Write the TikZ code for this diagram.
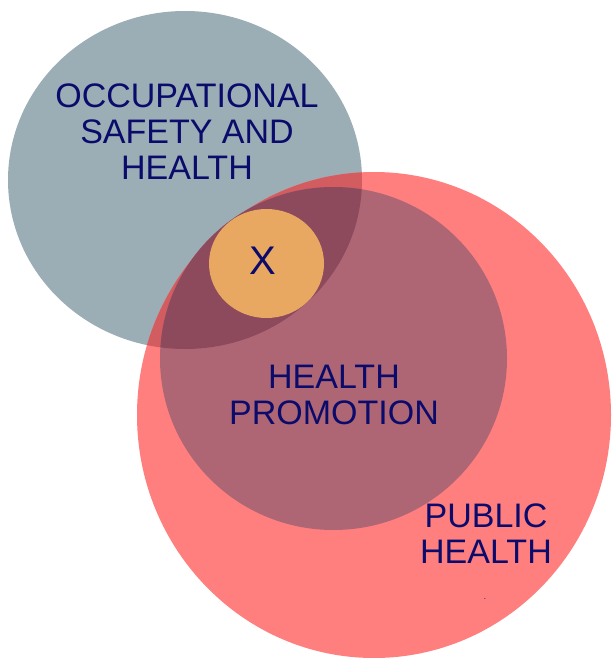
\documentclass[tikz,border=0pt]{standalone}
\usepackage{fontspec}
\setmainfont{Liberation Sans}
\usetikzlibrary{positioning}

\definecolor{oshgrey}{RGB}{155,173,181}
\definecolor{phred}{RGB}{255,127,127}
\definecolor{phdark}{RGB}{210,92,96}
\definecolor{hpmauve}{RGB}{174,102,117}
\definecolor{hpdark}{RGB}{141,74,93}
\definecolor{xorange}{RGB}{232,168,98}
\definecolor{labelblue}{RGB}{11,11,107}

\begin{document}
\begin{tikzpicture}
  [
  x=1pt, y=-1pt,
  font=\fontsize{34}{36}\selectfont,
  venntext/.style={text=labelblue, align=center, inner sep=0pt},
  oshset/.style={x radius=177, y radius=169},
  phset/.style={x radius=237, y radius=243},
  hpset/.style={x radius=173.5, y radius=171.5},
  ]
  \useasboundingbox (0,0) rectangle (611,658);

  % sets
  \fill[oshgrey] (185,180) ellipse [oshset];
  \fill[phred] (374,415) ellipse [phset];
  \begin{scope}
    \clip (185,180) ellipse [oshset];
    \fill[phdark] (374,415) ellipse [phset];
  \end{scope}
  \fill[hpmauve] (333.5,358.5) ellipse [hpset];
  \begin{scope}
    \clip (185,180) ellipse [oshset];
    \fill[hpdark] (333.5,358.5) ellipse [hpset];
  \end{scope}
  \fill[xorange] (266.5,263.5) ellipse [x radius=57.5, y radius=54.5];

  % labels
  \node[venntext] (osh) at (187,131.5) {OCCUPATIONAL\\SAFETY AND\\HEALTH};
  \node[venntext] (hp) at (334,394.5) {HEALTH\\PROMOTION};
  \node[venntext] (ph) at (486,533.5) {PUBLIC\\HEALTH};
  \node[venntext, font=\fontsize{40}{40}\selectfont] (x) at (263,261) {X};
  \node[venntext, font=\fontsize{8}{8}\selectfont] (dot) at (485,599) {.};

\end{tikzpicture}
\end{document}
